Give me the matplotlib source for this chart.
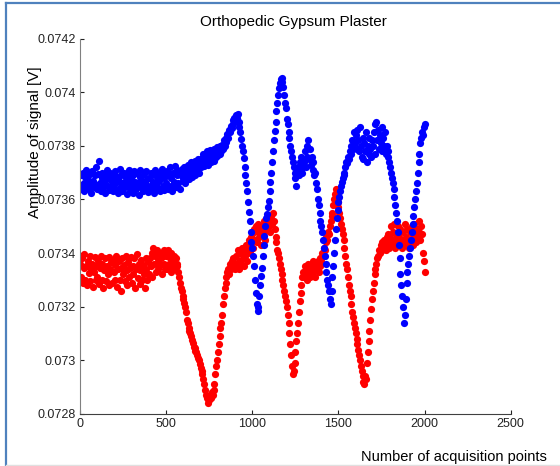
import numpy as np
import matplotlib
matplotlib.use('Agg')
import matplotlib.pyplot as plt
from matplotlib.lines import Line2D

plt.rcParams['font.family'] = ['Liberation Sans', 'DejaVu Sans']

# acquisition index step of 5 -> 0, 5, ..., 2000
x_step = 5
x_pts = np.arange(0, 2001, x_step)

# blue trace, values in microvolts
blue_uv = [
    73655, 73690, 73640, 73700, 73662, 73630, 73685, 73710, 73650, 73672, 73638, 73695, 73660, 73625, 73705, 73668, 73645, 73690, 73655, 73720,
    73640, 73695, 73745, 73660, 73630, 73680, 73700, 73648, 73665, 73625, 73690, 73710, 73652, 73635, 73678, 73700, 73645, 73668, 73630, 73690,
    73660, 73705, 73640, 73685, 73625, 73670, 73715, 73650, 73690, 73630, 73662, 73700, 73645, 73680, 73620, 73695, 73660, 73710, 73640, 73675,
    73650, 73690, 73625, 73705, 73665, 73640, 73700, 73660, 73618, 73685, 73710, 73648, 73670, 73632, 73695, 73660, 73640, 73705, 73675, 73628,
    73680, 73650, 73700, 73640, 73690, 73665, 73625, 73710, 73655, 73685, 73640, 73700, 73668, 73630, 73695, 73715, 73650, 73680, 73635, 73700,
    73660, 73705, 73640, 73690, 73720, 73650, 73680, 73630, 73700, 73665, 73725, 73645, 73690, 73710, 73660, 73700, 73640, 73690, 73715, 73670,
    73680, 73720, 73660, 73705, 73690, 73730, 73675, 73710, 73695, 73740, 73685, 73720, 73700, 73745, 73690, 73730, 73710, 73750, 73700, 73735,
    73720, 73755, 73735, 73770, 73725, 73760, 73745, 73780, 73730, 73765, 73750, 73785, 73740, 73770, 73755, 73790, 73745, 73775, 73760, 73795,
    73765, 73790, 73770, 73800, 73780, 73805, 73790, 73820, 73800, 73830, 73815, 73845, 73830, 73860, 73850, 73875, 73865, 73895, 73880, 73905,
    73900, 73915, 73905, 73920, 73890, 73870, 73850, 73825, 73800, 73780, 73755, 73720, 73690, 73660, 73630, 73590, 73555, 73520, 73480, 73440,
    73420, 73390, 73350, 73300, 73250, 73210, 73185, 73200, 73240, 73280, 73315, 73345, 73390, 73430, 73465, 73500, 73530, 73545, 73570, 73595,
    73630, 73665, 73700, 73740, 73780, 73820, 73855, 73890, 73930, 73960, 73990, 74015, 74035, 74050, 74040, 74055, 74020, 73990, 73960, 73940,
    73900, 73880, 73850, 73830, 73800, 73780, 73760, 73740, 73720, 73700, 73680, 73650, 73700, 73720, 73690, 73740, 73710, 73760, 73700, 73730,
    73740, 73780, 73720, 73800, 73760, 73820, 73750, 73790, 73730, 73760, 73710, 73740, 73690, 73700, 73660, 73640, 73600, 73580, 73550, 73520,
    73500, 73480, 73450, 73420, 73390, 73360, 73330, 73300, 73280, 73260, 73230, 73210, 73260, 73310, 73350, 73400, 73450, 73490, 73530, 73560,
    73590, 73610, 73630, 73650, 73665, 73680, 73700, 73690, 73720, 73740, 73735, 73760, 73750, 73780, 73800, 73770, 73820, 73790, 73850, 73810,
    73840, 73790, 73860, 73820, 73780, 73870, 73800, 73760, 73830, 73750, 73810, 73780, 73850, 73740, 73800, 73770, 73830, 73790, 73760, 73820,
    73800, 73850, 73770, 73880, 73890, 73820, 73860, 73790, 73840, 73810, 73870, 73780, 73830, 73800, 73850, 73770, 73800, 73760, 73780, 73740,
    73720, 73700, 73680, 73660, 73640, 73610, 73580, 73550, 73520, 73480, 73430, 73380, 73320, 73280, 73240, 73200, 73140, 73170, 73230, 73290,
    73330, 73360, 73390, 73420, 73450, 73480, 73510, 73540, 73570, 73600, 73630, 73660, 73700, 73740, 73770, 73810, 73830, 73850, 73840, 73870,
    73880,
]

# red trace, values in microvolts
red_uv = [
    73360, 73310, 73380, 73290, 73345, 73395, 73300, 73350, 73280, 73370, 73325, 73390, 73295, 73340, 73360, 73275, 73330, 73385, 73300, 73350,
    73310, 73370, 73285, 73345, 73390, 73300, 73360, 73270, 73335, 73380, 73295, 73350, 73320, 73385, 73280, 73340, 73365, 73290, 73375, 73330,
    73300, 73355, 73390, 73275, 73340, 73370, 73300, 73345, 73260, 73380, 73320, 73355, 73295, 73390, 73335, 73280, 73365, 73310, 73345, 73385,
    73290, 73350, 73320, 73380, 73270, 73340, 73395, 73305, 73360, 73285, 73335, 73375, 73300, 73355, 73320, 73270, 73380, 73340, 73300, 73365,
    73320, 73380, 73350, 73400, 73310, 73420, 73360, 73390, 73330, 73410, 73370, 73340, 73400, 73355, 73380, 73320, 73390, 73360, 73410, 73340,
    73390, 73340, 73410, 73360, 73380, 73330, 73400, 73350, 73370, 73390, 73340, 73380, 73360, 73350, 73330, 73310, 73290, 73270, 73260, 73240,
    73230, 73215, 73200, 73180, 73150, 73140, 73120, 73110, 73100, 73090, 73075, 73065, 73050, 73045, 73035, 73030, 73020, 73010, 73000, 72985,
    72970, 72960, 72950, 72930, 72910, 72890, 72870, 72860, 72840, 72855, 72850, 72870, 72860, 72880, 72870, 72890, 72910, 72950, 72980, 73000,
    73030, 73060, 73090, 73120, 73140, 73170, 73210, 73240, 73270, 73290, 73310, 73330, 73340, 73320, 73360, 73340, 73370, 73350, 73380, 73360,
    73340, 73390, 73350, 73410, 73370, 73340, 73400, 73360, 73420, 73380, 73350, 73410, 73390, 73430, 73370, 73420, 73450, 73400, 73460, 73430,
    73470, 73420, 73490, 73450, 73500, 73440, 73480, 73510, 73460, 73490, 73430, 73500, 73470, 73520, 73480, 73450, 73510, 73490, 73530, 73500,
    73520, 73480, 73540, 73510, 73550, 73520, 73490, 73460, 73440, 73410, 73400, 73380, 73360, 73340, 73320, 73300, 73280, 73260, 73240, 73220,
    73200, 73170, 73140, 73100, 73060, 73020, 72980, 72950, 72960, 72990, 73030, 73070, 73100, 73140, 73180, 73220, 73250, 73280, 73310, 73330,
    73310, 73350, 73320, 73340, 73300, 73360, 73330, 73310, 73350, 73320, 73370, 73330, 73350, 73310, 73360, 73340, 73370, 73330, 73380, 73350,
    73370, 73400, 73390, 73420, 73410, 73440, 73460, 73450, 73480, 73470, 73500, 73520, 73550, 73540, 73580, 73600, 73620, 73640, 73610, 73590,
    73570, 73550, 73530, 73510, 73490, 73470, 73450, 73420, 73390, 73360, 73340, 73310, 73280, 73260, 73240, 73210, 73180, 73160, 73140, 73120,
    73100, 73080, 73060, 73040, 73020, 73000, 72980, 72960, 72940, 72920, 72910, 72940, 72930, 72990, 73030, 73070, 73110, 73150, 73190, 73230,
    73260, 73290, 73320, 73340, 73360, 73380, 73390, 73410, 73400, 73430, 73410, 73440, 73420, 73450, 73430, 73410, 73460, 73440, 73470, 73420,
    73460, 73500, 73430, 73480, 73450, 73510, 73420, 73470, 73440, 73500, 73460, 73430, 73490, 73450, 73420, 73480, 73440, 73510, 73460, 73430,
    73490, 73450, 73420, 73480, 73440, 73500, 73460, 73430, 73510, 73470, 73440, 73490, 73460, 73520, 73480, 73450, 73500, 73470, 73400, 73370,
    73330,
]

x_ticks = [0, 500, 1000, 1500, 2000, 2500]
y_ticks = [0.0728, 0.073, 0.0732, 0.0734, 0.0736, 0.0738, 0.074, 0.0742]
y_ticklabels = ['0.0728', '0.073', '0.0732', '0.0734', '0.0736', '0.0738', '0.074', '0.0742']

blue_v = np.array(blue_uv) / 1e6
red_v = np.array(red_uv) / 1e6

fig = plt.figure(figsize=(5.6, 4.66), dpi=100)
ax = fig.add_axes([0.143, 0.112, 0.769, 0.805])

ax.plot(x_pts, red_v, linestyle='none', marker='o', markersize=5.2,
        markeredgewidth=0, color='#ff0000')
ax.plot(x_pts, blue_v, linestyle='none', marker='o', markersize=5.2,
        markeredgewidth=0, color='#0000ff')

ax.set_xlim(0, 2500)
ax.set_ylim(0.0728, 0.0742)
ax.set_xticks(x_ticks)
ax.set_yticks(y_ticks)
ax.set_yticklabels(y_ticklabels)

for side in ['top', 'right']:
    ax.spines[side].set_visible(False)
ax.spines['left'].set_color('#808080')
ax.spines['bottom'].set_color('#404040')
ax.tick_params(direction='in', length=3, width=0.8, labelsize=9, colors='#222222', pad=3)

ax.text(0.495, 1.044, 'Orthopedic Gypsum Plaster', transform=ax.transAxes,
        ha='center', va='center', fontsize=11)
ax.set_xlabel('Number of acquisition points', fontsize=10.5)
ax.xaxis.set_label_coords(0.869, -0.096)
ax.set_ylabel('Amplitude of signal [V]', fontsize=11)
ax.yaxis.set_label_coords(-0.088, 0.723)

# frame around the picture
fig.add_artist(Line2D([6 / 560, 6 / 560], [0, 1 - 2.5 / 466], transform=fig.transFigure,
                      color='#4f81bd', linewidth=1.6))
fig.add_artist(Line2D([6 / 560, 1], [1 - 2.5 / 466, 1 - 2.5 / 466], transform=fig.transFigure,
                      color='#4f81bd', linewidth=1.6))
fig.add_artist(Line2D([6 / 560, 1], [1.2 / 466, 1.2 / 466], transform=fig.transFigure,
                      color='#e0e0e0', linewidth=1))

fig.savefig('out.png', dpi=100)
